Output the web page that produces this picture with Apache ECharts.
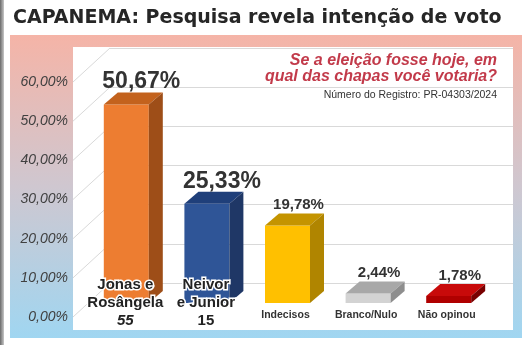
<!DOCTYPE html>
<html>
<head>
<meta charset="utf-8">
<script src="https://cdn.jsdelivr.net/npm/echarts@6/dist/echarts.min.js"></script>
<style>
html,body{margin:0;padding:0;background:#fff;}
#c{width:529px;height:345px;}
</style>
</head>
<body>
<div id="c"></div>
<script>
// ---- data ----
const categories = ['Jonas e\nRosângela', 'Neivor\ne Junior', 'Indecisos', 'Branco/Nulo', 'Não opinou'];
const ballotNumbers = ['55', '15', '', '', ''];
const values = [50.67, 25.33, 19.78, 2.44, 1.78];
const valueLabels = ['50,67%', '25,33%', '19,78%', '2,44%', '1,78%'];
const yTicks = [0, 10, 20, 30, 40, 50, 60];
const yTickLabels = ['0,00%', '10,00%', '20,00%', '30,00%', '40,00%', '50,00%', '60,00%'];
const titleText = 'CAPANEMA: Pesquisa revela intenção de voto';
const questionText = 'Se a eleição fosse hoje, em\nqual das chapas você votaria?';
const registryText = 'Número do Registro: PR-04303/2024';

// face colours [front, top, side]
const faceColors = [
  ['#ED7D31', '#C3621D', '#9E4E18'],
  ['#2F5597', '#1F3F7A', '#1F3766'],
  ['#FFC000', '#C49400', '#B08500'],
  ['#D3D3D3', '#A8A8A8', '#8E8E8E'],
  ['#B00000', '#C80A0A', '#780000']
];

const FRONT_DX = -24, FRONT_DY = 20;   // bar front plane vs back wall
const DEPTH_DX = 14, DEPTH_DY = -12;   // bar depth
const HALF_W = 22.5;

const chart = echarts.init(document.getElementById('c'), null, {renderer: 'canvas'});

function renderBar(params, api) {
  const idx = params.dataIndex;
  const v = api.value(1);
  const base = api.coord([idx, 0]);
  const top = api.coord([idx, v]);
  const cx = base[0] + FRONT_DX;
  const fb = base[1] + FRONT_DY;
  const ft = top[1] + FRONT_DY;
  const l = cx - HALF_W, r = cx + HALF_W;
  const c = faceColors[idx];
  const big = ballotNumbers[idx] !== '';
  const children = [
    {type: 'rect', shape: {x: l, y: ft, width: r - l, height: fb - ft}, style: {fill: c[0]}},
    {type: 'polygon', shape: {points: [[l, ft], [r, ft], [r + DEPTH_DX, ft + DEPTH_DY], [l + DEPTH_DX, ft + DEPTH_DY]]}, style: {fill: c[1]}},
    {type: 'polygon', shape: {points: [[r, ft], [r + DEPTH_DX, ft + DEPTH_DY], [r + DEPTH_DX, fb + DEPTH_DY], [r, fb]]}, style: {fill: c[2]}},
    {type: 'text', x: cx + (big ? 15 : 11), y: ft + DEPTH_DY + (big ? 1 : -1),
      style: {text: valueLabels[idx], fill: '#333', align: 'center', verticalAlign: 'bottom',
        font: 'bold ' + (big ? 23 : 15) + 'px "Liberation Sans", Arial, sans-serif'}}
  ];
  if (big) {
    const lines = categories[idx].split('\n');
    lines.push(ballotNumbers[idx]);
    lines.forEach(function (t, k) {
      children.push({type: 'text', x: cx - 1, y: fb - 18 + k * 18,
        style: {text: t, fill: '#222', stroke: '#fff', lineWidth: 3, align: 'center', verticalAlign: 'middle',
          font: (k === 2 && idx === 0 ? 'italic ' : '') + 'bold 15px "Liberation Sans", Arial, sans-serif'}});
    });
  } else {
    children.push({type: 'text', x: cx - 2, y: fb + 12,
      style: {text: categories[idx], fill: '#333', align: 'center', verticalAlign: 'middle',
        font: 'bold 10.5px "Liberation Sans", Arial, sans-serif'}});
  }
  return {type: 'group', children: children};
}

function renderDiag(params, api) {
  const v = api.value(0);
  const p0 = api.coord([0, v]);
  const p1 = api.coord([1, v]);
  return {type: 'line', shape: {x1: p0[0], y1: p0[1], x2: p1[0], y2: p1[1] - 34},
    style: {stroke: '#D9D9D9', lineWidth: 1}};
}

chart.setOption({
  animation: false,
  backgroundColor: '#fff',
  graphic: [
    {type: 'rect', shape: {x: 0, y: 0, width: 4, height: 345}, style: {fill: new echarts.graphic.LinearGradient(0, 0, 1, 0, [{offset: 0, color: '#6a6a6a'}, {offset: 1, color: '#c8c8c8'}])}, z: -10},
    {type: 'rect', shape: {x: 10, y: 35, width: 512, height: 303}, style: {fill: new echarts.graphic.LinearGradient(0, 0, 0, 1, [{offset: 0, color: '#F5B4A7'}, {offset: 0.5, color: '#CFC7D0'}, {offset: 1, color: '#A0D6F1'}])}, z: -10},
    {type: 'rect', shape: {x: 73, y: 47, width: 440, height: 283}, style: {fill: '#fff'}, z: -9},
    {type: 'text', x: 13, y: 9, style: {text: titleText, fill: '#262626', font: 'bold 19px "DejaVu Sans", Verdana, sans-serif'}, z: 10},
    {type: 'text', x: 497, y: 53, style: {text: questionText, fill: '#C23A4A', align: 'right', lineHeight: 16, font: 'italic bold 16px "Liberation Sans", Arial, sans-serif'}, z: 10},
    {type: 'text', x: 497, y: 90, style: {text: registryText, fill: '#333', align: 'right', font: '10.5px "Liberation Sans", Arial, sans-serif'}, z: 10}
  ],
  grid: [
    {left: 110, right: 16, top: 48, bottom: 345 - 283},
    {left: 73, right: 529 - 110, top: 82, bottom: 345 - 317}
  ],
  xAxis: [
    {gridIndex: 0, type: 'category', data: categories, axisLine: {show: false}, axisTick: {show: false}, axisLabel: {show: false}},
    {gridIndex: 1, type: 'value', min: 0, max: 1, show: false}
  ],
  yAxis: [
    {gridIndex: 0, type: 'value', min: 0, max: 60, interval: 10, axisLine: {show: false}, axisTick: {show: false}, axisLabel: {show: false},
      splitLine: {lineStyle: {color: '#D9D9D9', width: 1}}},
    {gridIndex: 1, type: 'value', min: 0, max: 60, interval: 10, axisLine: {show: false}, axisTick: {show: false}, splitLine: {show: false},
      axisLabel: {margin: 5, color: '#404040', fontStyle: 'italic', fontSize: 14, fontFamily: '"Liberation Sans", Arial, sans-serif',
        formatter: function (v) { return yTickLabels[yTicks.indexOf(v)]; }}}
  ],
  series: [
    {type: 'custom', xAxisIndex: 1, yAxisIndex: 1, data: yTicks.map(v => [v]), renderItem: renderDiag, z: 1, silent: true},
    {type: 'custom', xAxisIndex: 0, yAxisIndex: 0, data: values.map((v, i) => [i, v]), renderItem: renderBar, z: 5, silent: true}
  ]
});
</script>
</body>
</html>
